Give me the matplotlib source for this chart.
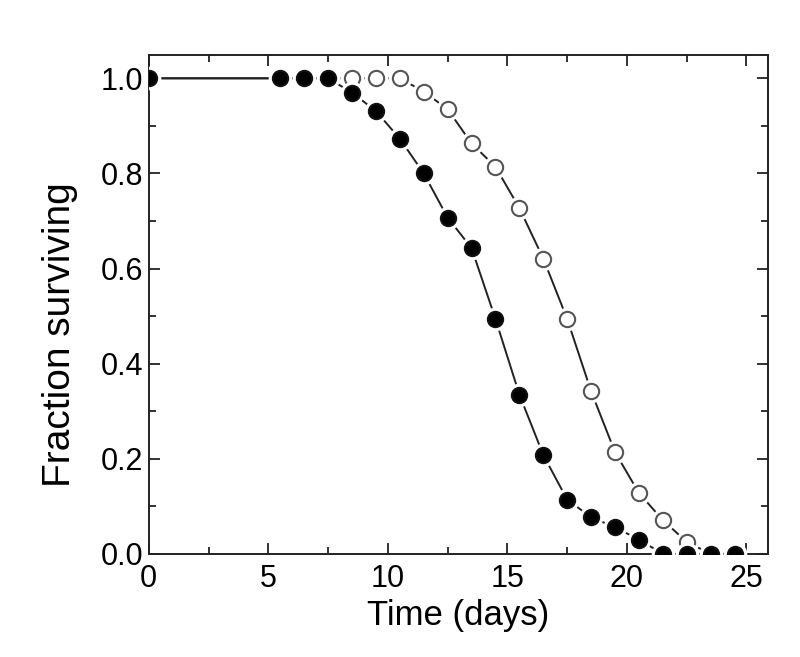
import matplotlib.pyplot as plt
from matplotlib.ticker import MultipleLocator

plt.rcParams['font.family'] = ['Liberation Sans', 'DejaVu Sans']

# survival data
days_filled = [0, 5.5, 6.5, 7.5, 8.5, 9.5, 10.5, 11.5, 12.5, 13.5, 14.5, 15.5,
               16.5, 17.5, 18.5, 19.5, 20.5, 21.5, 22.5, 23.5, 24.5]
frac_filled = [1.0, 1.0, 1.0, 1.0, 0.970, 0.931, 0.873, 0.800, 0.707, 0.643, 0.494, 0.335,
               0.208, 0.114, 0.077, 0.056, 0.030, 0.0, 0.0, 0.0, 0.0]

days_open = [0, 5.5, 6.5, 7.5, 8.5, 9.5, 10.5, 11.5, 12.5, 13.5, 14.5, 15.5,
             16.5, 17.5, 18.5, 19.5, 20.5, 21.5, 22.5, 23.5, 24.5]
frac_open = [1.0, 1.0, 1.0, 1.0, 1.0, 1.0, 1.0, 0.972, 0.935, 0.863, 0.814, 0.727,
             0.621, 0.494, 0.342, 0.214, 0.128, 0.071, 0.025, 0.0, 0.0]

fig = plt.figure(figsize=(8, 6.57), dpi=100)
ax = fig.add_axes([0.186, 0.157, 0.774, 0.76])

ms = 11
line_col = '#222222'


def draw_series(x, y, face, edge, z):
    ax.plot(x, y, '-', color=line_col, lw=1.4, zorder=z)
    # white halo so the line stops short of each marker
    ax.plot(x, y, 'o', ms=ms + 5, mfc='white', mec='white', zorder=z + 0.1)
    ax.plot(x, y, 'o', ms=ms, mfc=face, mec=edge, mew=1.5, zorder=z + 0.2)


draw_series(days_open, frac_open, 'white', '#555555', 2)
draw_series(days_filled, frac_filled, 'black', '#111111', 3)

ax.set_xlim(0, 25.9)
ax.set_ylim(0, 1.05)
ax.xaxis.set_major_locator(MultipleLocator(5))
ax.xaxis.set_minor_locator(MultipleLocator(2.5))
ax.yaxis.set_major_locator(MultipleLocator(0.2))
ax.yaxis.set_minor_locator(MultipleLocator(0.1))
ax.yaxis.set_major_formatter(plt.FuncFormatter(lambda v, p: f'{v:.1f}'))

ax.tick_params(which='both', direction='in', top=True, right=True,
               width=1.3, colors='#222222', labelcolor='black')
ax.tick_params(which='major', length=8, labelsize=22, pad=4)
ax.tick_params(axis='x', which='major', pad=7)
ax.tick_params(which='minor', length=5)
for s in ax.spines.values():
    s.set_linewidth(1.4)
    s.set_color('#222222')

ax.set_xlabel('Time (days)', fontsize=25, labelpad=4)
ax.set_ylabel('Fraction surviving', fontsize=28)
ax.yaxis.set_label_coords(-0.115, 0.44)

fig.savefig('out.png', dpi=100)
